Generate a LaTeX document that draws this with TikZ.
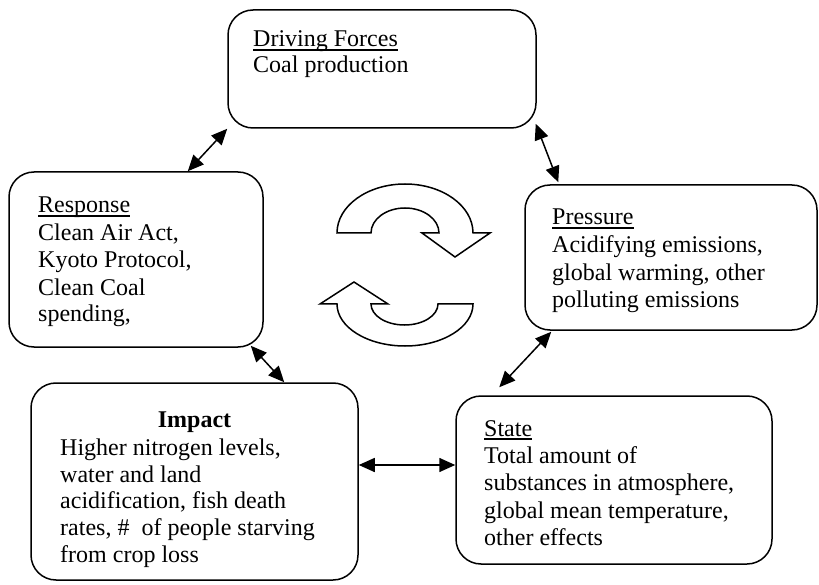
\documentclass[tikz,border=0pt]{standalone}
\usepackage{fontspec}
\setmainfont{Liberation Serif}
\usetikzlibrary{arrows.meta}
\newcommand\myul[1]{\setbox0\hbox{#1}\rlap{\vrule width\wd0 height -2.2pt depth 3.6pt}#1}
\tikzset{
  box/.style={draw, line width=1.5pt, rounded corners=25pt, inner sep=0pt},
  txt/.style={anchor=base west, inner sep=0pt, font=\fontsize{24}{27}\selectfont},
  link/.style={line width=1.5pt, {Triangle[length=16pt,width=14pt]}-{Triangle[length=16pt,width=14pt]}},
  cyc/.style={draw, line width=1.5pt, fill=white, line join=miter}
}
\begin{document}
\begin{tikzpicture}[x=1pt,y=-1pt]
\useasboundingbox (0,0) rectangle (819,585);
% boxes
\node[box, minimum width=308pt, minimum height=118pt] (drv) at (382,69) {};
\node[box, minimum width=254pt, minimum height=175pt] (resp) at (136,259.5) {};
\node[box, minimum width=292pt, minimum height=145pt] (press) at (671,257.5) {};
\node[box, minimum width=327pt, minimum height=197pt] (imp) at (194.5,481.5) {};
\node[box, minimum width=316pt, minimum height=168pt] (st) at (614,480) {};
% texts: driving forces
\node[txt] (d1) at (253,47) {\myul{Driving Forces}};
\node[txt] (d2) at (253,73) {Coal production};
% response
\node[txt] (r1) at (38,213) {\myul{Response}};
\node[txt] (r2) at (38,241) {Clean Air Act,};
\node[txt] (r3) at (38,268) {Kyoto Protocol,};
\node[txt] (r4) at (38,295) {Clean Coal};
\node[txt] (r5) at (38,321) {spending,};
% pressure
\node[txt] (p1) at (552,225) {\myul{Pressure}};
\node[txt] (p2) at (552,253) {Acidifying emissions,};
\node[txt] (p3) at (552,280) {global warming, other};
\node[txt] (p4) at (552,307) {polluting emissions};
% state
\node[txt] (s1) at (484,436) {\myul{State}};
\node[txt] (s2) at (484,463) {Total amount of};
\node[txt] (s3) at (484,490) {substances in atmosphere,};
\node[txt] (s4) at (484,518) {global mean temperature,};
\node[txt] (s5) at (484,545) {other effects};
% impact
\node[txt, anchor=base] (i1) at (194.5,427) {\textbf{Impact}};
\node[txt] (i2) at (60,455) {Higher nitrogen levels,};
\node[txt] (i3) at (60,482) {water and land};
\node[txt] (i4) at (60,508) {acidification, fish death};
\node[txt] (i5) at (60,535) {rates, \#~ of people starving};
\node[txt] (i6) at (60,562) {from crop loss};
% connectors
\draw[link] ([xshift=-76pt]resp.north east) -- (drv.south west);
\draw[link] ([xshift=-1pt,yshift=5pt]drv.south east) -- ([xshift=34pt,yshift=2pt]press.north west);
\draw[link] ([xshift=-13pt,yshift=2pt]resp.south east) -- ([xshift=254pt]imp.north west);
\draw[link] ([yshift=16.5pt]imp.east) -- ([yshift=16.5pt]imp.east -| st.west);
\draw[link] ([xshift=44pt,yshift=8pt]st.north west) -- ([xshift=27pt,yshift=-1pt]press.south west);
% cycle arrows
\path[cyc] (337,233) arc[start angle=180,end angle=360,x radius=68,y radius=49]
  -- (490,233) -- (455,257) -- (422,233) -- (439,233)
  arc[start angle=360,end angle=180,x radius=34,y radius=25] -- cycle;
\path[cyc] (473,304) arc[start angle=0,end angle=180,x radius=68,y radius=42]
  -- (320,304) -- (354,282) -- (388,304) -- (371,304)
  arc[start angle=180,end angle=0,x radius=33.5,y radius=21] -- cycle;
\end{tikzpicture}
\end{document}
